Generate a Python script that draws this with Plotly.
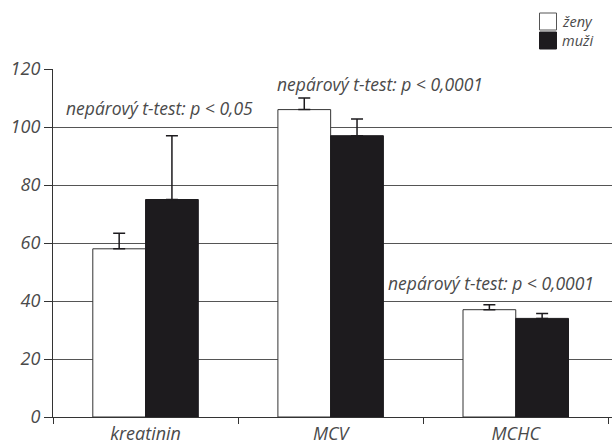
import plotly.graph_objects as go

categories = ["kreatinin", "MCV", "MCHC"]
zeny = [58, 106, 37]
zeny_err = [5.4, 4, 1.7]
muzi = [75, 97, 34]
muzi_err = [22, 5.8, 1.7]
y_ticks = [0, 20, 40, 60, 80, 100, 120]
notes = ["nepárový t-test: p < 0,05", "nepárový t-test: p < 0,0001", "nepárový t-test: p < 0,0001"]
note_x = [-0.44, 0.70, 1.30]
note_y = [106.6, 114.8, 46.2]
legend_names = ["ženy", "muži"]

FONT = "Open Sans"
TXT = "#4a4a4a"
DARK = "#1d1b1e"

W, H = 612, 446
L, R, T, B = 53, 0, 69, 29
PW, PH = W - L - R, H - T - B


def px_x(px):
    return (px - L) / PW


def px_y(py):
    return (H - B - py) / PH


fig = go.Figure()
fig.add_trace(go.Bar(
    x=categories, y=zeny, name=legend_names[0],
    marker=dict(color="white", line=dict(color="#333333", width=1)),
    error_y=dict(type="data", array=zeny_err, arrayminus=[0]*3, symmetric=False,
                 color=DARK, thickness=1.5, width=6),
))
fig.add_trace(go.Bar(
    x=categories, y=muzi, name=legend_names[1],
    marker=dict(color=DARK, line=dict(color=DARK, width=1)),
    error_y=dict(type="data", array=muzi_err, arrayminus=[0]*3, symmetric=False,
                 color=DARK, thickness=1.5, width=6),
))

for t, xx, yy in zip(notes, note_x, note_y):
    fig.add_annotation(x=xx, y=yy, xref="x", yref="y", text=t, showarrow=False,
                       xanchor="left", yanchor="middle",
                       font=dict(family=FONT, size=17.5, color=TXT, style="italic"))

# manual legend
swatches = [("white", "#555555", 13, 30), (DARK, DARK, 32, 49)]
for (fill, edge, y0, y1), name in zip(swatches, legend_names):
    fig.add_shape(type="rect", xref="paper", yref="paper",
                  x0=px_x(539.5), x1=px_x(556.5), y0=px_y(y1), y1=px_y(y0),
                  fillcolor=fill, line=dict(color=edge, width=1))
    fig.add_annotation(xref="paper", yref="paper", x=px_x(560), y=px_y((y0 + y1) / 2),
                       text=name, showarrow=False, xanchor="left", yanchor="middle",
                       font=dict(family=FONT, size=14.5, color=TXT, style="italic"))

fig.update_layout(
    width=W, height=H,
    margin=dict(l=L, r=R, t=T, b=B, autoexpand=False),
    paper_bgcolor="white", plot_bgcolor="white",
    barmode="group", bargap=0.43, bargroupgap=0,
    showlegend=False,
    font=dict(family=FONT, color=TXT),
)
fig.update_xaxes(
    type="category", range=[-0.5, 2.52], tickson="boundaries",
    ticks="outside", ticklen=6, tickcolor="#333333", tickwidth=1,
    showline=True, linecolor="#333333", linewidth=1.2,
    showgrid=False, zeroline=False, automargin=False,
    tickfont=dict(family=FONT, size=18, color=TXT, style="italic"),
)
fig.update_yaxes(
    range=[0, 120], tickvals=y_ticks, ticktext=[str(v) for v in y_ticks],
    ticks="outside", ticklen=8, tickcolor="#333333", tickwidth=1,
    showline=True, linecolor="#333333", linewidth=1.2, automargin=False,
    showgrid=True, gridcolor="#555555", gridwidth=1, zeroline=False,
    tickfont=dict(family=FONT, size=18, color=TXT, style="italic"),
)

fig.write_html("out.html", config={"displayModeBar": False},
               post_script="document.body.style.margin='0';document.body.style.overflow='hidden';")
